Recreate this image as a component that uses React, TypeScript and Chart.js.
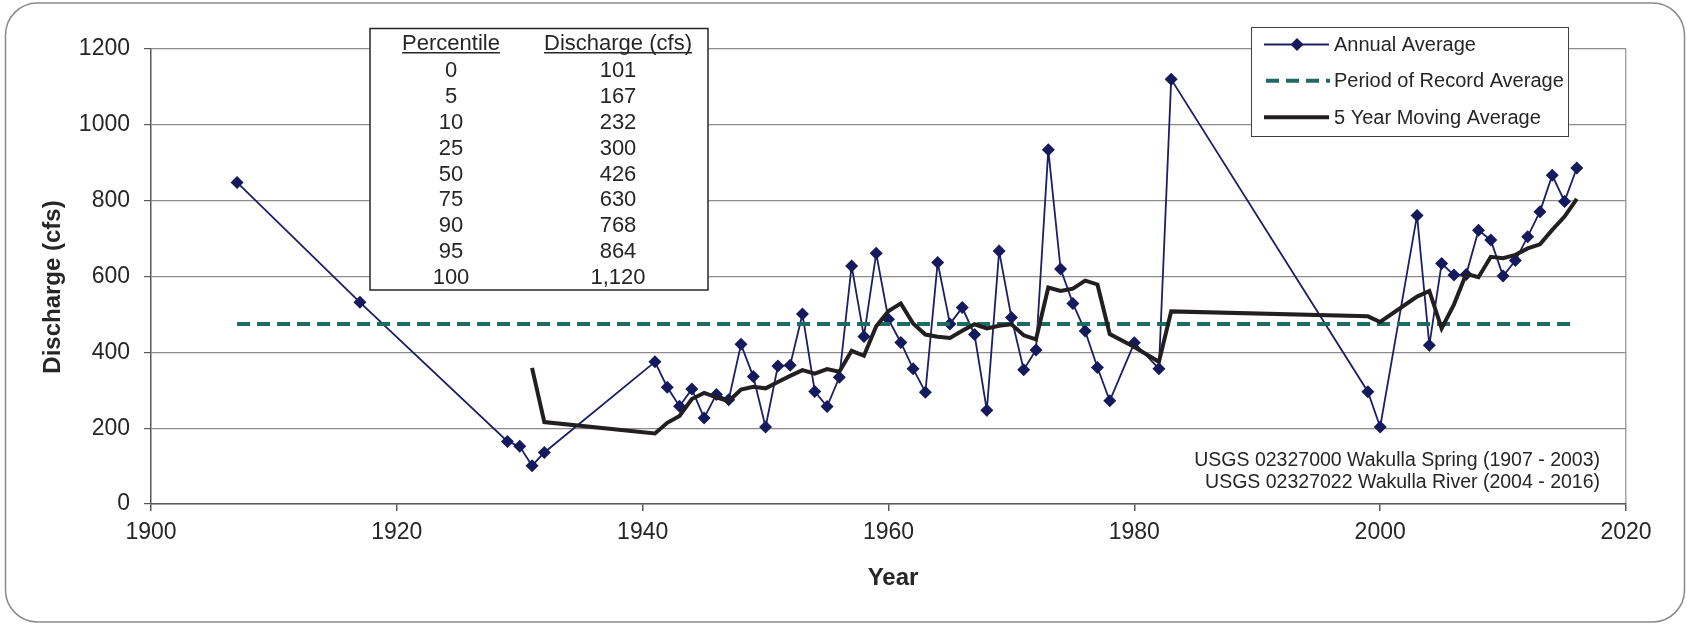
import React, { useEffect, useRef } from 'react';
import { Chart, registerables } from 'chart.js';

Chart.register(...registerables);

// ---------- data ----------
const years = [
  1907, 1917, 1929, 1930, 1931, 1932, 1941, 1942, 1943, 1944, 1945, 1946, 1947, 1948, 1949, 1950,
  1951, 1952, 1953, 1954, 1955, 1956, 1957, 1958, 1959, 1960, 1961, 1962, 1963, 1964, 1965, 1966,
  1967, 1968, 1969, 1970, 1971, 1972, 1973, 1974, 1975, 1976, 1977, 1978, 1980, 1982, 1983, 1999,
  2000, 2003, 2004, 2005, 2006, 2007, 2008, 2009, 2010, 2011, 2012, 2013, 2014, 2015, 2016,
];
const annualAverage = [
  848, 532, 165, 152, 101, 136, 375, 308, 258, 303, 227, 289, 275, 421, 336, 203,
  364, 366, 501, 297, 257, 334, 628, 442, 661, 487, 426, 357, 295, 637, 475, 518,
  447, 247, 667, 492, 354, 406, 934, 620, 529, 456, 360, 272, 425, 357, 1120, 296,
  203, 761, 419, 634, 604, 605, 722, 696, 601, 642, 705, 771, 867, 798, 886,
];
const maYears = [
  1931, 1932, 1941, 1942, 1943, 1944, 1945, 1946, 1947, 1948, 1949, 1950, 1951, 1952, 1953, 1954,
  1955, 1956, 1957, 1958, 1959, 1960, 1961, 1962, 1963, 1964, 1965, 1966, 1967, 1968, 1969, 1970,
  1971, 1972, 1973, 1974, 1975, 1976, 1977, 1978, 1980, 1982, 1983, 1999, 2000, 2003, 2004, 2005,
  2006, 2007, 2008, 2009, 2010, 2011, 2012, 2013, 2014, 2015, 2016,
];
const movingAverage = [
  359, 216, 186, 214, 232, 277, 293, 281, 271, 302, 309, 305, 322, 338, 353, 344,
  356, 349, 404, 391, 469, 509, 529, 476, 447, 441, 438, 457, 474, 463, 470, 474,
  445, 434, 571, 562, 568, 589, 579, 448, 414, 375, 508, 495, 480, 547, 562, 463,
  526, 607, 598, 652, 648, 657, 674, 685, 723, 758, 805,
];
const periodYears = [1907, 2016];
const periodAverage = [475, 475];

const seriesNames = ['Annual Average', 'Period of Record Average', '5 Year Moving Average'];

const tableHeaders = ['Percentile', 'Discharge (cfs)'];
const percentiles = ['0', '5', '10', '25', '50', '75', '90', '95', '100'];
const discharges = ['101', '167', '232', '300', '426', '630', '768', '864', '1,120'];

const noteLines = [
  'USGS 02327000 Wakulla Spring (1907 - 2003)',
  'USGS 02327022 Wakulla River (2004 - 2016)',
];

const xTitle = 'Year';
const yTitle = 'Discharge (cfs)';

// ---------- styles ----------
const FONT = "'Liberation Sans', Arial, Helvetica, sans-serif";
const TEXT = '#262626';
const NAVY = '#1a1f66';
const NAVY_FILL = '#141a5c';
const TEAL = '#1f6a63';
const BLACK = '#231f20';

const W = 1687;
const H = 625;

const overlayPlugin = {
  id: 'overlay',
  beforeDraw(chart: any) {
    const ctx = chart.ctx;
    ctx.save();
    ctx.fillStyle = '#ffffff';
    ctx.fillRect(0, 0, W, H);
    ctx.restore();
  },
  afterDraw(chart: any) {
    const ctx: CanvasRenderingContext2D = chart.ctx;
    ctx.save();

    // outer rounded frame
    ctx.strokeStyle = '#8a8a8a';
    ctx.lineWidth = 1.5;
    ctx.beginPath();
    (ctx as any).roundRect(5.5, 3, 1679, 619, 32);
    ctx.stroke();

    // axis titles
    ctx.fillStyle = TEXT;
    ctx.font = `bold 24px ${FONT}`;
    ctx.textAlign = 'center';
    ctx.textBaseline = 'middle';
    ctx.fillText(xTitle, 893, 578);
    ctx.save();
    ctx.translate(53, 287);
    ctx.rotate(-Math.PI / 2);
    ctx.fillText(yTitle, 0, 0);
    ctx.restore();

    // percentile table
    const tx = 370, ty = 28.5, tw = 338, th = 261.5;
    ctx.fillStyle = '#ffffff';
    ctx.fillRect(tx, ty, tw, th);
    ctx.strokeStyle = '#262626';
    ctx.lineWidth = 1.5;
    ctx.strokeRect(tx, ty, tw, th);
    const colX = [451, 618];
    const fs = 22;
    ctx.font = `${fs}px ${FONT}`;
    ctx.fillStyle = TEXT;
    ctx.textAlign = 'center';
    ctx.textBaseline = 'alphabetic';
    const headerBase = 50;
    tableHeaders.forEach((h, i) => {
      ctx.fillText(h, colX[i], headerBase);
      const w = ctx.measureText(h).width;
      ctx.fillRect(colX[i] - w / 2, headerBase + 2, w, 1.5);
    });
    const rowStart = 69.3;
    const rowStep = 25.85;
    percentiles.forEach((p, i) => {
      const base = rowStart + i * rowStep + 7.8;
      ctx.fillText(p, colX[0], base);
      ctx.fillText(discharges[i], colX[1], base);
    });

    // legend
    const lx = 1251, ly = 27, lw = 317, lh = 109;
    ctx.fillStyle = '#ffffff';
    ctx.fillRect(lx, ly, lw, lh);
    ctx.strokeStyle = '#404040';
    ctx.lineWidth = 1;
    ctx.strokeRect(lx + 0.5, ly + 0.5, lw, lh);
    const rowsY = [44.5, 80.7, 117.3];
    // annual
    ctx.strokeStyle = NAVY;
    ctx.lineWidth = 1.8;
    ctx.beginPath();
    ctx.moveTo(1264, rowsY[0]);
    ctx.lineTo(1329, rowsY[0]);
    ctx.stroke();
    ctx.fillStyle = NAVY_FILL;
    ctx.beginPath();
    ctx.moveTo(1297, rowsY[0] - 6.5);
    ctx.lineTo(1303.5, rowsY[0]);
    ctx.lineTo(1297, rowsY[0] + 6.5);
    ctx.lineTo(1290.5, rowsY[0]);
    ctx.closePath();
    ctx.fill();
    // period
    ctx.strokeStyle = TEAL;
    ctx.lineWidth = 4;
    ctx.setLineDash([13, 7]);
    ctx.beginPath();
    ctx.moveTo(1266, rowsY[1]);
    ctx.lineTo(1330, rowsY[1]);
    ctx.stroke();
    ctx.setLineDash([]);
    // MA
    ctx.strokeStyle = BLACK;
    ctx.lineWidth = 4;
    ctx.beginPath();
    ctx.moveTo(1264, rowsY[2]);
    ctx.lineTo(1329, rowsY[2]);
    ctx.stroke();
    ctx.fillStyle = TEXT;
    ctx.font = `20px ${FONT}`;
    ctx.textAlign = 'left';
    ctx.textBaseline = 'middle';
    seriesNames.forEach((n, i) => ctx.fillText(n, 1334, rowsY[i] + 1));

    // note
    ctx.font = `19.5px ${FONT}`;
    ctx.textAlign = 'right';
    ctx.textBaseline = 'middle';
    ctx.fillText(noteLines[0], 1600, 461);
    ctx.fillText(noteLines[1], 1600, 482.5);

    ctx.restore();
  },
};

export default function App() {
  const ref = useRef<HTMLCanvasElement | null>(null);

  useEffect(() => {
    if (!ref.current) return;
    const tickFont = { family: FONT, size: 23 };
    const chart = new Chart(ref.current, {
      type: 'line',
      data: {
        datasets: [
          {
            label: seriesNames[0],
            data: years.map((x, i) => ({ x, y: annualAverage[i] })),
            borderColor: NAVY,
            borderWidth: 1.8,
            backgroundColor: NAVY_FILL,
            pointBackgroundColor: NAVY_FILL,
            pointBorderColor: NAVY_FILL,
            pointStyle: 'rectRot',
            pointRadius: 6.5,
            pointBorderWidth: 0,
            tension: 0,
            order: 3,
          },
          {
            label: seriesNames[1],
            data: periodYears.map((x, i) => ({ x, y: periodAverage[i] })),
            borderColor: TEAL,
            borderWidth: 4,
            borderDash: [13, 7],
            pointRadius: 0,
            order: 2,
          },
          {
            label: seriesNames[2],
            data: maYears.map((x, i) => ({ x, y: movingAverage[i] })),
            borderColor: BLACK,
            borderWidth: 4,
            pointRadius: 0,
            borderJoinStyle: 'miter',
            order: 1,
          },
        ],
      } as any,
      options: {
        animation: false,
        responsive: false,
        devicePixelRatio: 1,
        layout: { padding: { top: 49, right: 61, left: 0, bottom: 0 } },
        plugins: {
          legend: { display: false },
          tooltip: { enabled: false },
        },
        scales: {
          x: {
            type: 'linear',
            min: 1900,
            max: 2020,
            ticks: {
              stepSize: 20,
              font: tickFont,
              color: TEXT,
              padding: 8,
              callback: (v: any) => String(v),
            },
            grid: {
              color: (c: any) => (c.tick && c.tick.value === 2020 ? '#a6a6a6' : 'rgba(0,0,0,0)'),
              tickColor: '#595959',
              tickLength: 7,
              lineWidth: 1.5,
            },
            border: { color: '#595959', width: 1.5 },
            afterFit: (s: any) => {
              s.height = 121;
            },
          },
          y: {
            min: 0,
            max: 1200,
            ticks: {
              stepSize: 200,
              font: tickFont,
              color: TEXT,
              padding: 14,
              callback: (v: any) => String(v),
            },
            grid: {
              color: '#8c8c8c',
              tickColor: '#595959',
              tickLength: 7,
              lineWidth: 1.2,
            },
            border: { color: '#595959', width: 1.5 },
            afterFit: (s: any) => {
              s.width = 151;
            },
          },
        },
      } as any,
      plugins: [overlayPlugin],
    });
    return () => chart.destroy();
  }, []);

  return (
    <div style={{ position: 'absolute', left: 0, top: 0, width: W, height: H }}>
      <canvas ref={ref} width={W} height={H} style={{ width: W, height: H, display: 'block' }} />
    </div>
  );
}
